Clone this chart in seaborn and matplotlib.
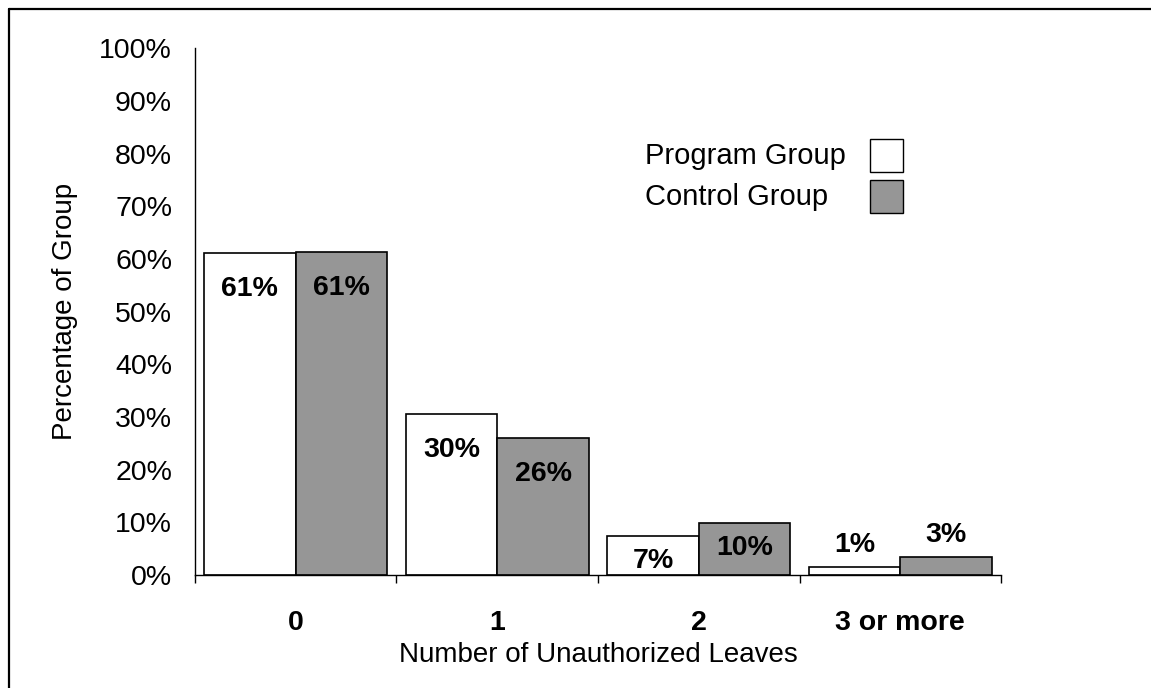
import numpy as np
import pandas as pd
import seaborn as sns
import matplotlib.pyplot as plt
from matplotlib.patches import Rectangle
from matplotlib.lines import Line2D

# values
categories = ["0", "1", "2", "3 or more"]
groups = ["Program Group", "Control Group"]
program_vals = [61.1, 30.5, 7.4, 1.5]
control_vals = [61.3, 26.0, 9.9, 3.4]
program_labels = ["61%", "30%", "7%", "1%"]
control_labels = ["61%", "26%", "10%", "3%"]

df = pd.DataFrame({
    "Leaves": categories * 2,
    "Group": [groups[0]] * 4 + [groups[1]] * 4,
    "Pct": program_vals + control_vals,
})

sns.set_style("white")
plt.rcParams["font.family"] = ["Liberation Sans", "DejaVu Sans"]
plt.rcParams["text.color"] = "black"
plt.rcParams["axes.labelcolor"] = "black"
plt.rcParams["xtick.color"] = "black"
plt.rcParams["ytick.color"] = "black"

fig = plt.figure(figsize=(11.51, 6.88), dpi=100)
ax = fig.add_axes([0.1694, 0.164, 0.7003, 0.766])

colors = {"Program Group": "white", "Control Group": "#969696"}
sns.barplot(data=df, x="Leaves", y="Pct", hue="Group", order=categories,
            hue_order=groups, palette=colors, width=0.91, edgecolor="black",
            linewidth=1.2, ax=ax, legend=False)

# value labels
for container, labels in zip(ax.containers, [program_labels, control_labels]):
    for bar, lab in zip(container, labels):
        x = bar.get_x() + bar.get_width() / 2
        h = bar.get_height()
        if h > 20:
            ax.text(x, h - 4.3, lab, ha="center", va="top",
                    fontsize=20.5, fontweight="bold")
        elif h > 5:
            ax.text(x, h - 2.3, lab, ha="center", va="top",
                    fontsize=20.5, fontweight="bold")
        else:
            ax.text(x, h + 1.8, lab, ha="center", va="bottom",
                    fontsize=20.5, fontweight="bold")

ax.set_ylim(0, 100)
ax.set_xlim(-0.5, 3.5)
ax.set_yticks(np.arange(0, 101, 10))
ax.set_yticklabels([f"{v}%" for v in range(0, 101, 10)], fontsize=20.5)
ax.tick_params(axis="y", left=False, length=0, pad=16.5)

# separators between categories as major ticks, labels as minor
ax.set_xticks(np.arange(-0.5, 4, 1))
ax.set_xticklabels([])
ax.tick_params(axis="x", which="major", bottom=True, length=6,
               direction="out", width=1)
ax.set_xticks(np.arange(4), minor=True)
ax.set_xticklabels(categories, minor=True, fontsize=20.5, fontweight="bold")
ax.tick_params(axis="x", which="minor", bottom=True, length=0, pad=25)

ax.set_xlabel("Number of Unauthorized Leaves", fontsize=20, labelpad=4.5)
ax.set_ylabel("Percentage of Group", fontsize=20, labelpad=15)

for s in ["top", "right"]:
    ax.spines[s].set_visible(False)
for s in ["left", "bottom"]:
    ax.spines[s].set_color("black")
    ax.spines[s].set_linewidth(1)

# legend: text on the left, swatches on the right
box_w, box_h = 0.041, 0.0626
for i, g in enumerate(groups):
    y0 = 0.765 - i * 0.078
    ax.add_patch(Rectangle((0.8375, y0), box_w, box_h, transform=ax.transAxes,
                           facecolor=colors[g], edgecolor="black",
                           linewidth=1, clip_on=False))
    ax.text(0.558, y0 + box_h / 2, g, transform=ax.transAxes, ha="left",
            va="center", fontsize=21)

# frame lines along top and left edges of the image
fig.add_artist(Line2D([9 / 1151, 9 / 1151], [0, 1 - 9 / 688],
                      transform=fig.transFigure, color="black", linewidth=1.6))
fig.add_artist(Line2D([9 / 1151, 1], [1 - 9 / 688, 1 - 9 / 688],
                      transform=fig.transFigure, color="black", linewidth=1.6))

fig.savefig("out.png", dpi=100)
